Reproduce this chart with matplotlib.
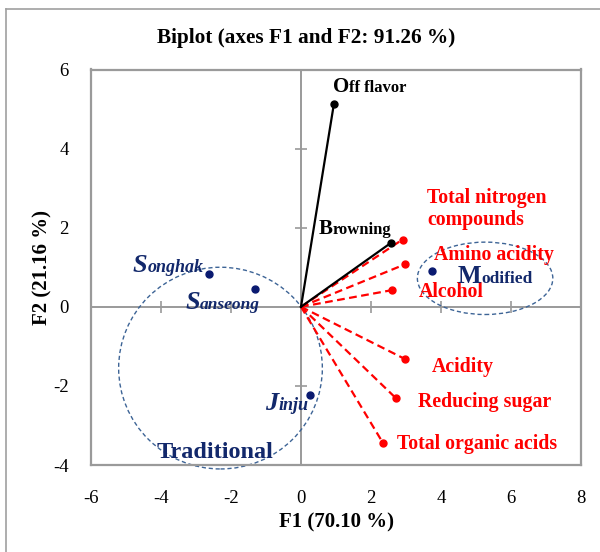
import matplotlib
matplotlib.use("Agg")
import matplotlib.pyplot as plt
from matplotlib.patches import Ellipse
from matplotlib.lines import Line2D
from matplotlib.font_manager import FontProperties

plt.rcParams['font.family'] = ['Liberation Serif', 'DejaVu Serif']
plt.rcParams['axes.unicode_minus'] = False

# ---- data ----
black_vars = ["Off flavor", "Browning"]
black_x = [0.94, 2.56]
black_y = [5.13, 1.61]

red_vars = ["Total nitrogen compounds", "Amino acidity", "Alcohol",
            "Acidity", "Reducing sugar", "Total organic acids"]
red_x = [2.90, 2.96, 2.59, 2.97, 2.70, 2.34]
red_y = [1.70, 1.07, 0.42, -1.32, -2.30, -3.44]

obs_names = ["Songhak", "Sanseong", "Modified", "Jinju"]
obs_x = [-2.62, -1.31, 3.73, 0.25]
obs_y = [0.84, 0.46, 0.91, -2.23]

groups = ["Traditional", "Modified"]
group_cx = [-2.30, 5.26]
group_cy = [-1.55, 0.72]
group_w = [5.82, 3.87]
group_h = [5.10, 1.83]

xticks = [-6, -4, -2, 0, 2, 4, 6, 8]
yticks = [-4, -2, 0, 2, 4, 6]

title = "Biplot (axes F1 and F2: 91.26 %)"
xlabel = "F1 (70.10 %)"
ylabel = "F2 (21.16 %)"

# ---- figure ----
DPI = 100
fig = plt.figure(figsize=(6.0, 5.52), dpi=DPI)
ax = fig.add_axes([91/600, 1-465/552, 490/600, (465-69.5)/552])
ax.set_xlim(-6, 8)
ax.set_ylim(-4, 6)

gray = '#9a9a9a'
navy = '#12286b'
dotnavy = '#0a1a70'
red = '#ff0000'

for s in ax.spines.values():
    s.set_color(gray)
    s.set_linewidth(1.6)

ax.set_xticks(xticks)
ax.set_yticks(yticks)
ax.tick_params(length=0, labelsize=13.5, colors='black')
ax.tick_params(axis='x', pad=18)
ax.tick_params(axis='y', pad=16)

# zero lines with crossing tick marks
ax.axhline(0, color=gray, lw=1.4, zorder=1)
ax.axvline(0, color=gray, lw=1.4, zorder=1)
xt_inner = [t for t in xticks if t not in (0, xticks[0], xticks[-1])]
yt_inner = [t for t in yticks if t not in (0, yticks[0], yticks[-1])]
ax.plot(xt_inner, [0]*len(xt_inner), ls='none', marker='|', ms=8, mew=1.2, color=gray, zorder=1)
ax.plot([0]*len(yt_inner), yt_inner, ls='none', marker='_', ms=8, mew=1.2, color=gray, zorder=1)

# ellipses
for cx, cy, w, h in zip(group_cx, group_cy, group_w, group_h):
    e = Ellipse((cx, cy), w, h, fill=False, ls=(0, (3, 2)), lw=1.0,
                edgecolor='#3d6496', clip_on=False, zorder=2)
    ax.add_patch(e)

# vectors
for x, y in zip(red_x, red_y):
    ax.plot([0, x], [0, y], ls=(0, (3.5, 2)), lw=1.6, color=red, zorder=3)
ax.plot(red_x, red_y, ls='none', marker='o', ms=5, color=red, zorder=4)
for x, y in zip(black_x, black_y):
    ax.plot([0, x], [0, y], ls='-', lw=1.6, color='black', zorder=3)
ax.plot(black_x, black_y, ls='none', marker='o', ms=5, color='black', zorder=4)

# observations
ax.plot(obs_x, obs_y, ls='none', marker='o', ms=5, color=dotnavy, zorder=5)

renderer = fig.canvas.get_renderer()


def cap_label(x, y, text, big, small, color, style='normal'):
    t1 = ax.text(x, y, text[0], fontsize=big, fontweight='bold', fontstyle=style,
                 color=color, va='baseline', ha='left', zorder=6)
    fp_b = FontProperties(family='Liberation Serif', size=big, weight='bold', style=style)
    fp_s = FontProperties(family='Liberation Serif', size=small, weight='bold', style=style)
    _, _, db = renderer.get_text_width_height_descent('lp', fp_b, ismath=False)
    _, _, ds = renderer.get_text_width_height_descent('lp', fp_s, ismath=False)
    off = (db - ds) * 72 / DPI
    ax.annotate(text[1:], xy=(1, 0), xycoords=t1, xytext=(0, off),
                textcoords='offset points', fontsize=small, fontweight='bold',
                fontstyle=style, color=color, va='bottom', ha='left', zorder=6)


# black variable labels
cap_label(0.92, 5.43, black_vars[0], 15, 12, 'black')
cap_label(0.51, 1.83, black_vars[1], 15, 12, 'black')

# red labels
red_label_pos = [(3.61, 2.62), (3.80, 1.19), (3.37, 0.25),
                 (3.74, -1.64), (3.35, -2.54), (2.73, -3.60)]
for name, (lx, ly) in zip(red_vars, red_label_pos):
    if name.startswith("Total nitrogen"):
        ax.text(lx, ly, "Total nitrogen", fontsize=14.3, fontweight='bold', color=red,
                va='baseline', ha='left', zorder=6)
        ax.text(lx, 2.06, "compounds", fontsize=14.3, fontweight='bold', color=red,
                va='baseline', ha='left', zorder=6)
    else:
        ax.text(lx, ly, name, fontsize=14.3, fontweight='bold', color=red,
                va='baseline', ha='left', zorder=6)

# observation labels
cap_label(-4.80, 0.88, obs_names[0], 19, 13, navy, 'italic')
cap_label(-3.31, -0.06, obs_names[1], 19, 12.5, navy, 'italic')
cap_label(4.47, 0.60, obs_names[2], 18, 12.5, navy, 'normal')
cap_label(-1.02, -2.61, obs_names[3], 19, 13, navy, 'italic')

ax.text(-4.14, -3.82, groups[0], fontsize=17.5, fontweight='bold', color=navy,
        va='baseline', ha='left', zorder=6, clip_on=False)

# titles / labels
fig.text(306/600, 1-43/552, title, fontsize=15.3, fontweight='bold',
         ha='center', va='baseline')
fig.text(336/600, 1-527.7/552, xlabel, fontsize=15, fontweight='bold',
         ha='center', va='baseline')
fig.text(42/600, 1-268/552, ylabel, fontsize=15, fontweight='bold',
         ha='center', va='center', rotation=90)

# outer frame (left and top edges visible)
fig.add_artist(Line2D([6/600, 6/600], [0, 1-9/552], color='#a0a0a0', lw=1.2,
                      transform=fig.transFigure))
fig.add_artist(Line2D([6/600, 1], [1-9/552, 1-9/552], color='#a0a0a0', lw=1.2,
                      transform=fig.transFigure))

fig.savefig("out.png", dpi=DPI)
